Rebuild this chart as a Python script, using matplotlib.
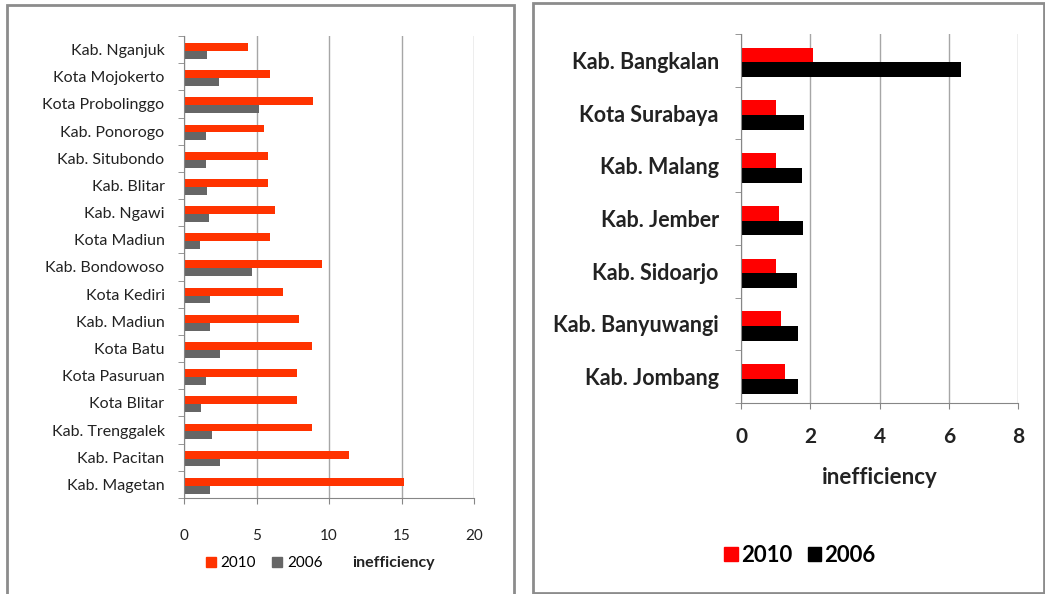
import numpy as np
import matplotlib
matplotlib.use("Agg")
import matplotlib.pyplot as plt
from matplotlib.patches import Rectangle, Patch

plt.rcParams["font.family"] = ["Lato", "DejaVu Sans"]

# ---------------------------------------------------------------------------
# Data
# ---------------------------------------------------------------------------
left_regions = ["Kab. Nganjuk", "Kota Mojokerto", "Kota Probolinggo", "Kab. Ponorogo",
                "Kab. Situbondo", "Kab. Blitar", "Kab. Ngawi", "Kota Madiun",
                "Kab. Bondowoso", "Kota Kediri", "Kab. Madiun", "Kota Batu",
                "Kota Pasuruan", "Kota Blitar", "Kab. Trenggalek", "Kab. Pacitan",
                "Kab. Magetan"]
left_2010 = [4.4, 5.9, 8.9, 5.5, 5.8, 5.8, 6.3, 5.9, 9.5, 6.8, 7.9, 8.8, 7.8, 7.8, 8.8, 11.4, 15.2]
left_2006 = [1.6, 2.4, 5.2, 1.5, 1.5, 1.6, 1.7, 1.1, 4.7, 1.8, 1.8, 2.5, 1.5, 1.2, 1.9, 2.5, 1.8]
left_xticks = [0, 5, 10, 15, 20]

right_regions = ["Kab. Bangkalan", "Kota Surabaya", "Kab. Malang", "Kab. Jember",
                 "Kab. Sidoarjo", "Kab. Banyuwangi", "Kab. Jombang"]
right_2010 = [2.08, 1.02, 1.02, 1.09, 1.02, 1.15, 1.28]
right_2006 = [6.36, 1.82, 1.75, 1.79, 1.63, 1.65, 1.65]
right_xticks = [0, 2, 4, 6, 8]

GRID = "#a6a6a6"
SPINE = "#868686"
TEXT = "#222222"

fig = plt.figure(figsize=(10.45, 5.94), dpi=100)

# panel frames
fig.patches.append(Rectangle((7 / 1045, -0.01), 507 / 1045, 1 - 5 / 594 + 0.01,
                             transform=fig.transFigure, fill=False,
                             edgecolor="#8c8c8c", linewidth=2))
fig.patches.append(Rectangle((533 / 1045, 1 / 594), 511 / 1045, 1 - 4 / 594,
                             transform=fig.transFigure, fill=False,
                             edgecolor="#8c8c8c", linewidth=2))


def style_axes(ax, regions, xticks, size, weight, pad):
    n = len(regions)
    ax.set_xlim(xticks[0], xticks[-1])
    ax.set_ylim(n - 0.5, -0.5)
    ax.set_xticks(xticks)
    ax.set_yticks(np.arange(n))
    ax.set_yticklabels(regions, fontsize=size, fontweight=weight, color=TEXT)
    ax.set_yticks(np.arange(n + 1) - 0.5, minor=True)
    ax.tick_params(axis="y", which="major", length=0, pad=pad)
    ax.tick_params(axis="y", which="minor", length=4, color=SPINE, direction="out")
    ax.tick_params(axis="x", length=4, color=SPINE, direction="out")
    for lab in ax.get_xticklabels():
        lab.set_fontweight(weight)
    for s in ["top", "right"]:
        ax.spines[s].set_visible(False)
    for s in ["left", "bottom"]:
        ax.spines[s].set_color(SPINE)
    ax.grid(True, axis="x", color=GRID, linewidth=1)
    ax.set_axisbelow(True)


# --- left panel -------------------------------------------------------------
ax1 = fig.add_axes([184 / 1045, 1 - 498 / 594, 290 / 1045, 462 / 594])
y = np.arange(len(left_regions))
h = 0.29
ax1.barh(y - h / 2 + 0.05, left_2010, height=h, color="#ff3300", label="2010")
ax1.barh(y + h / 2 + 0.05, left_2006, height=h, color="#666666", label="2006")
style_axes(ax1, left_regions, left_xticks, 11.5, "normal", 14)
ax1.tick_params(axis="x", labelsize=11, pad=18, labelcolor=TEXT)
ax1.set_xlabel("inefficiency", fontsize=11.5, fontweight="bold", color=TEXT)
ax1.xaxis.set_label_coords(0.722, -0.141)
ax1.xaxis.label.set_va("center")
fig.legend(handles=[Patch(color="#ff3300", label="2010"),
                    Patch(color="#666666", label="2006")],
           loc="center", bbox_to_anchor=(264 / 1045, 1 - 563 / 594), ncol=2,
           frameon=False, prop={"size": 11}, handlelength=0.65, handleheight=0.65,
           handletextpad=0.3, columnspacing=1.1, borderpad=0)

# --- right panel ------------------------------------------------------------
ax2 = fig.add_axes([741 / 1045, 1 - 403 / 594, 277.3 / 1045, 369 / 594])
y = np.arange(len(right_regions))
h = 0.28
ax2.barh(y - h / 2 + 0.04, right_2010, height=h, color="#ff0000", label="2010")
ax2.barh(y + h / 2 + 0.04, right_2006, height=h, color="#000000", label="2006")
style_axes(ax2, right_regions, right_xticks, 15.5, "bold", 16)
ax2.tick_params(axis="x", labelsize=15, pad=13, labelcolor=TEXT)
ax2.set_xlabel("inefficiency", fontsize=16, fontweight="bold", color=TEXT)
ax2.xaxis.set_label_coords(0.5, -0.203)
ax2.xaxis.label.set_va("center")
fig.legend(handles=[Patch(color="#ff0000", label="2010"),
                    Patch(color="#000000", label="2006")],
           loc="center", bbox_to_anchor=(800 / 1045, 1 - 555 / 594), ncol=2,
           frameon=False, prop={"size": 16, "weight": "bold"},
           handlelength=0.6, handleheight=0.6,
           handletextpad=0.15, columnspacing=0.7, borderpad=0)

plt.savefig("out.png", dpi=100, facecolor="white")
